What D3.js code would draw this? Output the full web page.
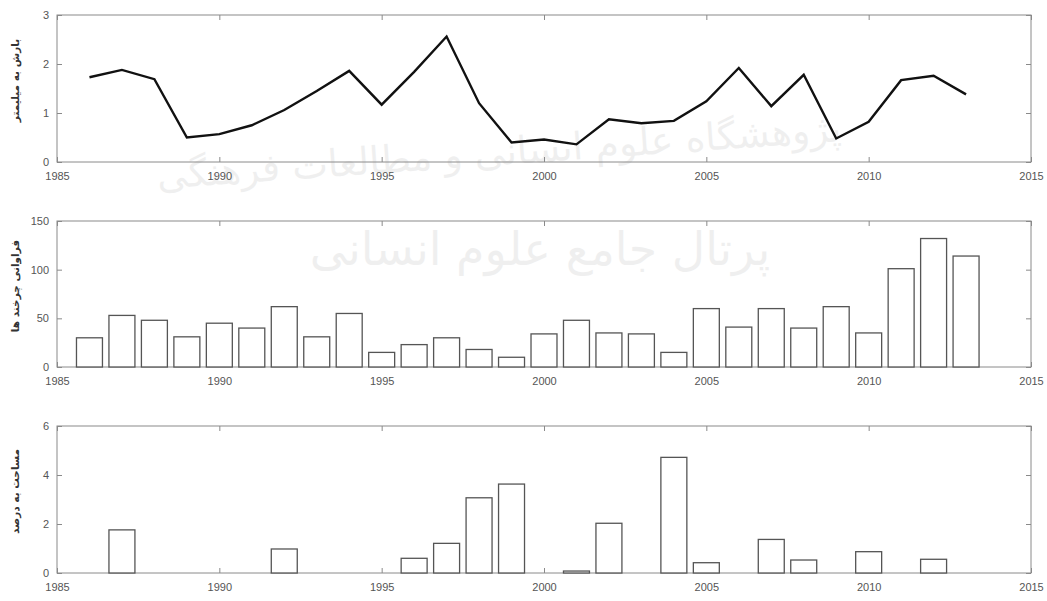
<!DOCTYPE html>
<html>
<head>
<meta charset="utf-8">
<script src="https://cdn.jsdelivr.net/npm/d3@7"></script>
<style>
  html, body { margin: 0; padding: 0; background: #fff; }
  svg { display: block; }
  .tick text { font-family: "Liberation Sans", Arial, sans-serif; font-size: 11px; fill: #555; }
  .ylab { font-family: "DejaVu Sans", sans-serif; font-size: 10.5px; font-weight: bold; fill: #333; }
  .faint { font-family: "DejaVu Sans", sans-serif; fill: #000; opacity: 0.06; }
</style>
</head>
<body>
<svg id="chart" width="1047" height="601"></svg>
<script>
// Years shared by all three panels
const years = [1986, 1987, 1988, 1989, 1990, 1991, 1992, 1993, 1994, 1995,
               1996, 1997, 1998, 1999, 2000, 2001, 2002, 2003, 2004, 2005,
               2006, 2007, 2008, 2009, 2010, 2011, 2012, 2013];

// Rainfall (mm)
const rainfall = [1.73, 1.88, 1.69, 0.50, 0.57, 0.75, 1.06, 1.45, 1.86, 1.17,
                  1.84, 2.56, 1.20, 0.40, 0.46, 0.36, 0.87, 0.79, 0.84, 1.24,
                  1.92, 1.14, 1.78, 0.48, 0.82, 1.67, 1.76, 1.38];

// Cyclone frequency
const cycloneCount = [30, 53, 48, 31, 45, 40, 62, 31, 55, 15,
                      23, 30, 18, 10, 34, 48, 35, 34, 15, 60,
                      41, 60, 40, 62, 35, 101, 132, 114];

// Area (percent)
const areaPct = [0, 1.76, 0, 0, 0, 0, 0.98, 0, 0, 0,
                 0.60, 1.21, 3.07, 3.63, 0, 0.08, 2.03, 0, 4.72, 0.42,
                 0, 1.37, 0.53, 0, 0.87, 0, 0.56, 0];

// Axis settings
const xDomain = [1985, 2015];
const xTicks = [1985, 1990, 1995, 2000, 2005, 2010, 2015];
const rainTicks = [0, 1, 2, 3];
const cycloneTicks = [0, 50, 100, 150];
const areaTicks = [0, 2, 4, 6];

const yLabels = ["بارش به میلیمتر", "فراوانی چرخند ها", "مساحت به درصد"];

const svg = d3.select("#chart");
const left = 57, right = 1031;
const x = d3.scaleLinear().domain(xDomain).range([left, right]);
const axisColor = "#8a8a8a";

// faint background lettering
svg.append("text").attr("class", "faint")
  .attr("x", 500).attr("y", 165).attr("text-anchor", "middle")
  .attr("font-size", 38).attr("transform", "rotate(-4 500 165)")
  .text("پژوهشگاه علوم انسانی و مطالعات فرهنگی");
svg.append("text").attr("class", "faint")
  .attr("x", 540).attr("y", 265).attr("text-anchor", "middle")
  .attr("font-size", 46)
  .text("پرتال جامع علوم انسانی");

function panel(top, bottom, yMax, yTicks, label) {
  const y = d3.scaleLinear().domain([0, yMax]).range([bottom, top]);
  const g = svg.append("g");

  // box
  g.append("rect").attr("x", left).attr("y", top)
    .attr("width", right - left).attr("height", bottom - top)
    .attr("fill", "none").attr("stroke", axisColor).attr("stroke-width", 1);

  const styleAxis = sel => {
    sel.select(".domain").remove();
    sel.selectAll(".tick line").attr("stroke", axisColor);
  };

  g.append("g").attr("transform", `translate(0,${bottom})`)
    .call(d3.axisBottom(x).tickValues(xTicks).tickFormat(d3.format("d"))
      .tickSizeInner(-5).tickSizeOuter(0).tickPadding(10))
    .call(styleAxis);
  g.append("g").attr("transform", `translate(0,${top})`)
    .call(d3.axisTop(x).tickValues(xTicks).tickFormat("")
      .tickSizeInner(-5).tickSizeOuter(0))
    .call(styleAxis);
  g.append("g").attr("transform", `translate(${left},0)`)
    .call(d3.axisLeft(y).tickValues(yTicks).tickFormat(d3.format("d"))
      .tickSizeInner(-5).tickSizeOuter(0).tickPadding(8))
    .call(styleAxis);
  g.append("g").attr("transform", `translate(${right},0)`)
    .call(d3.axisRight(y).tickValues(yTicks).tickFormat("")
      .tickSizeInner(-5).tickSizeOuter(0))
    .call(styleAxis);

  const cy = (top + bottom) / 2 - 8;
  g.append("text").attr("class", "ylab")
    .attr("transform", `translate(16,${cy}) rotate(-90)`)
    .attr("text-anchor", "middle").attr("dominant-baseline", "middle")
    .text(label);

  return { g, y };
}

// Panel 1: rainfall line
{
  const { g, y } = panel(15, 162, 3, rainTicks, yLabels[0]);
  const line = d3.line().x((d, i) => x(years[i])).y(d => y(d));
  g.append("path").datum(rainfall)
    .attr("d", line).attr("fill", "none")
    .attr("stroke", "#111").attr("stroke-width", 2.4)
    .attr("stroke-linejoin", "miter");
}

// Panel 2: cyclone frequency bars
{
  const { g, y } = panel(221, 367, 150, cycloneTicks, yLabels[1]);
  const w = (x(1) - x(0)) * 0.8;
  g.selectAll("rect.bar").data(cycloneCount).join("rect").attr("class", "bar")
    .attr("x", (d, i) => x(years[i]) - w / 2)
    .attr("y", d => y(d))
    .attr("width", w)
    .attr("height", d => y(0) - y(d))
    .attr("fill", "#fff").attr("stroke", "#555").attr("stroke-width", 1.3);
}

// Panel 3: area bars
{
  const { g, y } = panel(426, 573, 6, areaTicks, yLabels[2]);
  const w = (x(1) - x(0)) * 0.8;
  const pts = years.map((yr, i) => ({ yr, v: areaPct[i] })).filter(d => d.v > 0);
  g.selectAll("rect.bar").data(pts).join("rect").attr("class", "bar")
    .attr("x", d => x(d.yr) - w / 2)
    .attr("y", d => y(d.v))
    .attr("width", w)
    .attr("height", d => y(0) - y(d.v))
    .attr("fill", "#fff").attr("stroke", "#555").attr("stroke-width", 1.3);
}
</script>
</body>
</html>
